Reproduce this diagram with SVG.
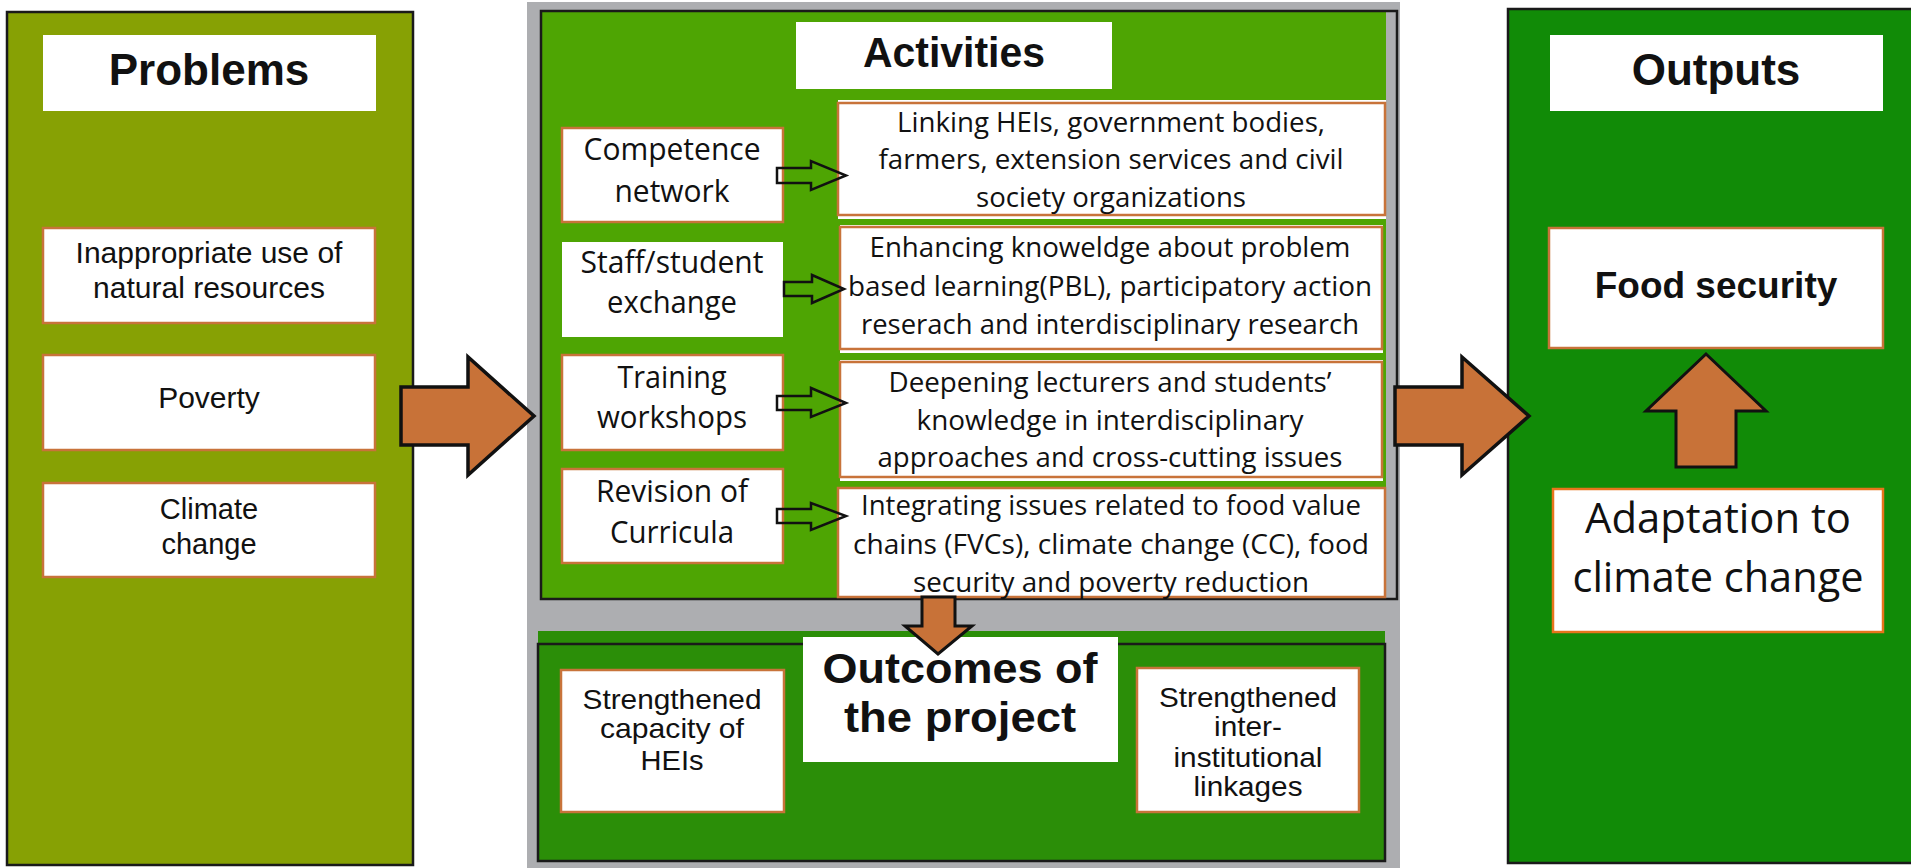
<svg xmlns="http://www.w3.org/2000/svg" width="1911" height="868" viewBox="0 0 1911 868">
<style>
.panel{stroke:#1a1a1a;stroke-width:2.5}
.wbox{fill:#fff}
.obox{fill:#fff;stroke:#c8733a;stroke-width:2.5}
.big{fill:#c87238;stroke:#111;stroke-width:3.5;stroke-linejoin:miter}
.small{fill:none;stroke:#111;stroke-width:2.5}
.ar{font-family:"Liberation Sans",Arial,sans-serif;fill:#111;text-anchor:middle}
.ab{font-family:"Liberation Sans",Arial,sans-serif;font-weight:bold;fill:#111;text-anchor:middle}
.ca{font-family:"Open Sans","Noto Sans",sans-serif;fill:#111;text-anchor:middle}
</style>
<rect width="1911" height="868" fill="#fff"/>

<g id="problems">
<rect class="panel" x="7" y="12" width="406" height="853" fill="#87a104"/>
<rect class="wbox" x="43" y="35" width="333" height="76"/>
<text class="ab" x="209" y="85" font-size="44">Problems</text>
</g>
<g id="problem-1">
<rect class="obox" x="43" y="228" width="332" height="95"/>
<text class="ar" x="209" y="263" font-size="30">Inappropriate use of</text>
<text class="ar" x="209" y="298" font-size="30">natural resources</text>
</g>
<g id="problem-2">
<rect class="obox" x="43" y="355" width="332" height="95"/>
<text class="ar" x="209" y="408" font-size="30">Poverty</text>
</g>
<g id="problem-3">
<rect class="obox" x="43" y="483" width="332" height="94"/>
<text class="ar" x="209" y="519" font-size="29">Climate</text>
<text class="ar" x="209" y="554" font-size="29">change</text>
</g>

<g id="project-frame">
<rect x="527" y="2" width="873" height="866" fill="#adaeb1"/>
</g>

<g id="activities">
<rect x="541" y="11" width="845" height="588" fill="#4ea503"/>
<rect x="541" y="11" width="856" height="588" fill="none" stroke="#1a1a1a" stroke-width="2.5"/>
<rect class="wbox" x="796" y="22" width="316" height="67"/>
<text class="ab" x="954" y="67" font-size="42" textLength="182" lengthAdjust="spacingAndGlyphs">Activities</text>
</g>

<g id="act-competence">
<rect class="obox" x="562" y="128" width="221" height="94"/>
<text class="ca" x="672" y="160" font-size="31" textLength="177" lengthAdjust="spacingAndGlyphs">Competence</text>
<text class="ca" x="672" y="202" font-size="31" textLength="115" lengthAdjust="spacingAndGlyphs">network</text>
</g>
<g id="act-linking">
<rect class="wbox" x="838" y="100" width="548" height="119"/>
<rect class="obox" x="838" y="103" width="547" height="112"/>
<text class="ca" x="1111" y="132" font-size="28" textLength="428" lengthAdjust="spacingAndGlyphs">Linking HEIs, government bodies,</text>
<text class="ca" x="1111" y="169" font-size="28" textLength="465" lengthAdjust="spacingAndGlyphs">farmers, extension services and civil</text>
<text class="ca" x="1111" y="207" font-size="28" textLength="270" lengthAdjust="spacingAndGlyphs">society organizations</text>
</g>

<g id="act-exchange">
<rect class="wbox" x="562" y="242" width="221" height="95"/>
<text class="ca" x="672" y="273" font-size="31" textLength="183" lengthAdjust="spacingAndGlyphs">Staff/student</text>
<text class="ca" x="672" y="313" font-size="31" textLength="130" lengthAdjust="spacingAndGlyphs">exchange</text>
</g>
<g id="act-enhancing">
<rect class="wbox" x="840" y="225" width="543" height="128"/>
<rect class="obox" x="840" y="227" width="542" height="122"/>
<text class="ca" x="1110" y="257" font-size="28" textLength="481" lengthAdjust="spacingAndGlyphs">Enhancing knoweldge about problem</text>
<text class="ca" x="1110" y="296" font-size="28" textLength="524" lengthAdjust="spacingAndGlyphs">based learning(PBL), participatory action</text>
<text class="ca" x="1110" y="334" font-size="28" textLength="498" lengthAdjust="spacingAndGlyphs">reserach and interdisciplinary research</text>
</g>

<g id="act-training">
<rect class="obox" x="562" y="355" width="221" height="95"/>
<text class="ca" x="672" y="388" font-size="31" textLength="109" lengthAdjust="spacingAndGlyphs">Training</text>
<text class="ca" x="672" y="428" font-size="31" textLength="150" lengthAdjust="spacingAndGlyphs">workshops</text>
</g>
<g id="act-deepening">
<rect class="wbox" x="840" y="360" width="543" height="121"/>
<rect class="obox" x="840" y="362" width="542" height="115"/>
<text class="ca" x="1110" y="392" font-size="28" textLength="443" lengthAdjust="spacingAndGlyphs">Deepening lecturers and students’</text>
<text class="ca" x="1110" y="430" font-size="28" textLength="387" lengthAdjust="spacingAndGlyphs">knowledge in interdisciplinary</text>
<text class="ca" x="1110" y="467" font-size="28" textLength="465" lengthAdjust="spacingAndGlyphs">approaches and cross-cutting issues</text>
</g>

<g id="act-revision">
<rect class="obox" x="562" y="469" width="221" height="94"/>
<text class="ca" x="672" y="502" font-size="31" textLength="152" lengthAdjust="spacingAndGlyphs">Revision of</text>
<text class="ca" x="672" y="543" font-size="31" textLength="124" lengthAdjust="spacingAndGlyphs">Curricula</text>
</g>
<g id="act-integrating">
<rect class="obox" x="838" y="488" width="547" height="109"/>
<text class="ca" x="1111" y="515" font-size="28" textLength="500" lengthAdjust="spacingAndGlyphs">Integrating issues related to food value</text>
<text class="ca" x="1111" y="554" font-size="28" textLength="516" lengthAdjust="spacingAndGlyphs">chains (FVCs), climate change (CC), food</text>
<text class="ca" x="1111" y="592" font-size="28" textLength="396" lengthAdjust="spacingAndGlyphs">security and poverty reduction</text>
</g>

<g id="outcomes">
<rect x="538" y="631" width="847" height="14" fill="#2b8e08"/>
<rect class="panel" x="538" y="644" width="847" height="217" fill="#2b8e08"/>
<rect class="wbox" x="803" y="637" width="315" height="125"/>
<text class="ab" x="960" y="683" font-size="43" textLength="275" lengthAdjust="spacingAndGlyphs">Outcomes of</text>
<text class="ab" x="960" y="732" font-size="43" textLength="232" lengthAdjust="spacingAndGlyphs">the project</text>
</g>
<g id="outcome-capacity">
<rect class="obox" x="561" y="670" width="223" height="142"/>
<text class="ar" x="672" y="709" font-size="28" textLength="179" lengthAdjust="spacingAndGlyphs">Strengthened</text>
<text class="ar" x="672" y="738" font-size="28" textLength="144" lengthAdjust="spacingAndGlyphs">capacity of</text>
<text class="ar" x="672" y="770" font-size="28" textLength="63" lengthAdjust="spacingAndGlyphs">HEIs</text>
</g>
<g id="outcome-linkages">
<rect class="obox" x="1137" y="668" width="222" height="144"/>
<text class="ar" x="1248" y="707" font-size="28" textLength="178" lengthAdjust="spacingAndGlyphs">Strengthened</text>
<text class="ar" x="1248" y="736" font-size="28" textLength="68" lengthAdjust="spacingAndGlyphs">inter-</text>
<text class="ar" x="1248" y="767" font-size="28" textLength="149" lengthAdjust="spacingAndGlyphs">institutional</text>
<text class="ar" x="1248" y="796" font-size="28" textLength="109" lengthAdjust="spacingAndGlyphs">linkages</text>
</g>

<g id="outputs">
<rect class="panel" x="1508" y="9" width="420" height="854" fill="#118b07"/>
<rect class="wbox" x="1550" y="35" width="333" height="76"/>
<text class="ab" x="1716" y="85" font-size="44">Outputs</text>
</g>
<g id="output-food">
<rect class="obox" x="1549" y="228" width="334" height="120"/>
<text class="ab" x="1716" y="298" font-size="37">Food security</text>
</g>
<g id="output-adaptation">
<rect class="obox" x="1553" y="489" width="330" height="143" style="stroke:#e8741c"/>
<text class="ca" x="1718" y="533" font-size="42" textLength="266" lengthAdjust="spacingAndGlyphs">Adaptation to</text>
<text class="ca" x="1718" y="592" font-size="42" textLength="291" lengthAdjust="spacingAndGlyphs">climate change</text>
</g>

<g id="connectors">
<polygon class="big" points="401,387 468,387 468,357 534,416 468,475 468,445 401,445"/>
<polygon class="big" points="1395,387 1462,387 1462,357 1529,416 1462,475 1462,445 1395,445"/>
<polygon class="big" points="922,597 955,597 955,626 972,626 938,654 905,626 922,626" style="stroke-width:3"/>
<polygon class="big" points="1706,354 1766,411 1736,411 1736,467 1676,467 1676,411 1646,411" style="stroke-width:3"/>
<polygon class="small" points="777,168 811,168 811,161 846,175.5 811,190 811,183 777,183"/>
<polygon class="small" points="784,282 812,282 812,275 844,289 812,303 812,296 784,296"/>
<polygon class="small" points="777,396 811,396 811,388 846,403 811,417 811,410 777,410"/>
<polygon class="small" points="777,509 811,509 811,503 846,516 811,530 811,523 777,523"/>
</g>
</svg>
